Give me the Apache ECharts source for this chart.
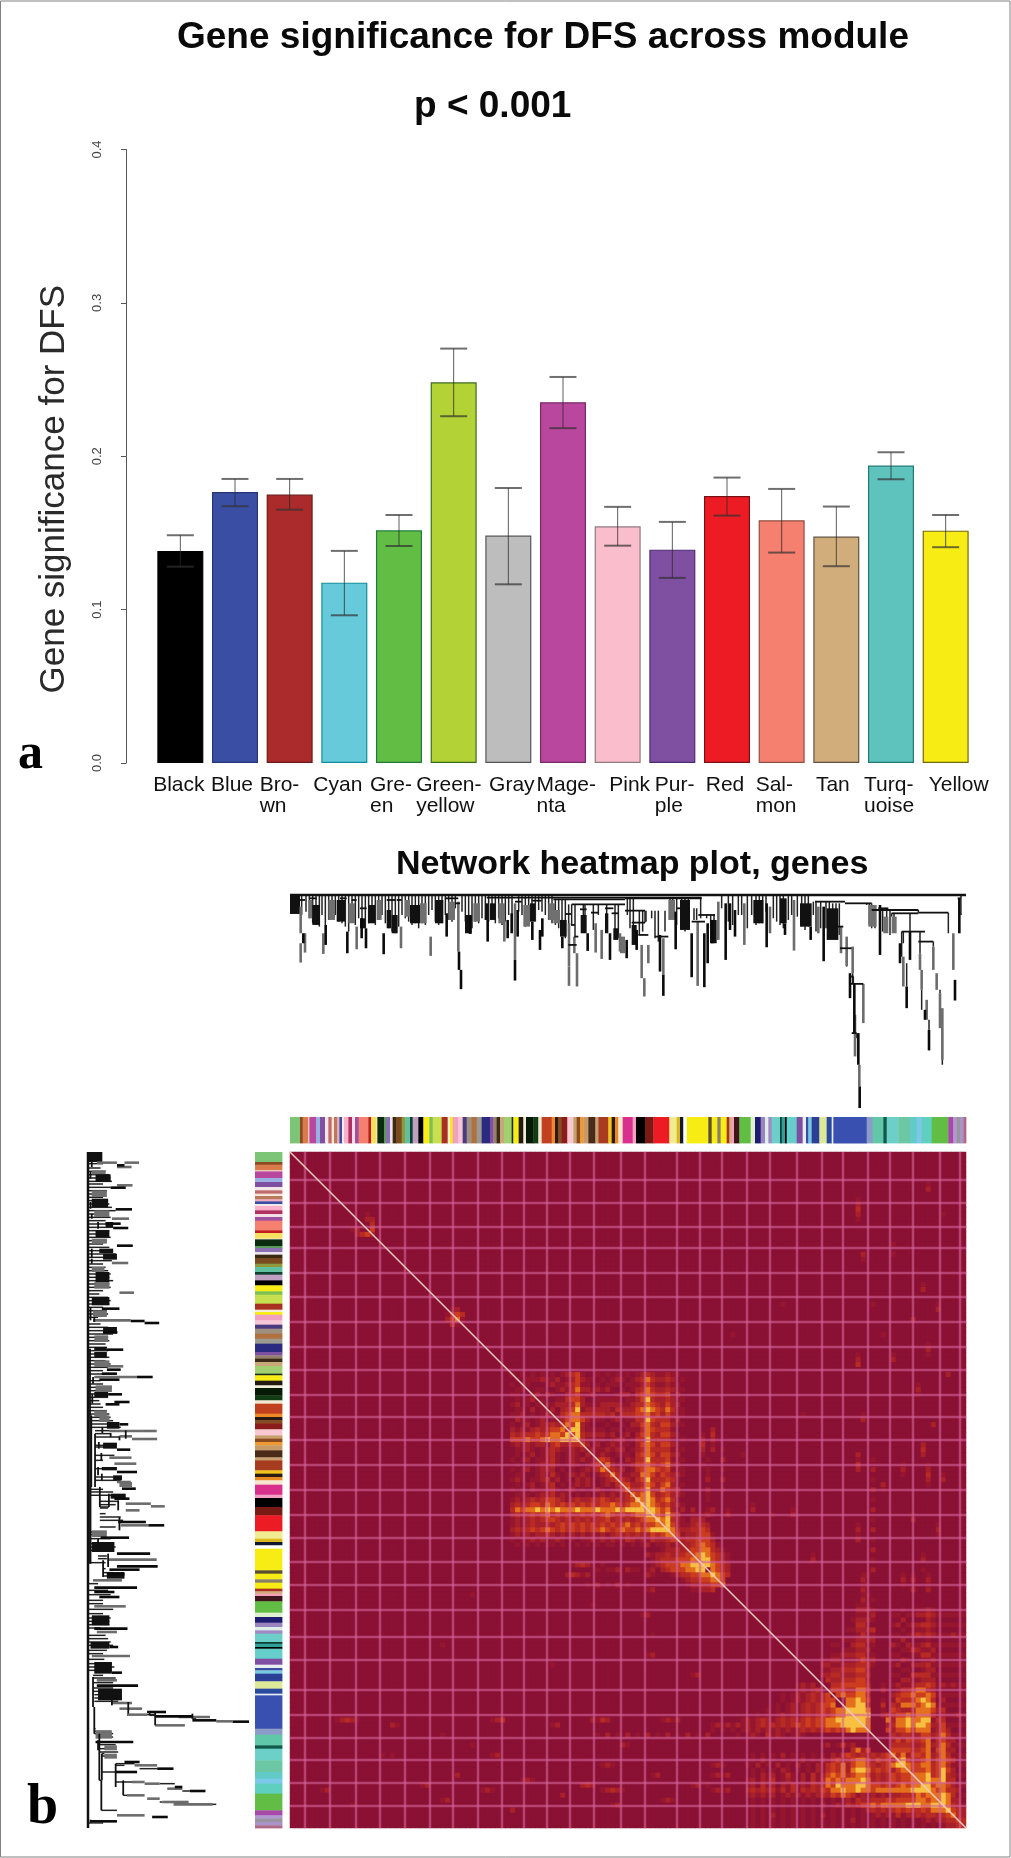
<!DOCTYPE html>
<html><head><meta charset="utf-8">
<style>html,body{margin:0;padding:0;background:#fff}#c{width:1011px;height:1858px;filter:blur(.5px)}</style>
<script src="https://cdn.jsdelivr.net/npm/echarts@6/dist/echarts.min.js"></script>
</head><body><div id="c"></div>
<script>
// ---------- panel a ----------
const categories=['Black','Blue','Bro-\nwn','Cyan','Gre-\nen','Green-\nyellow','Gray','Mage-\nnta','Pink','Pur-\nple','Red','Sal-\nmon','Tan','Turq-\nuoise','Yellow'];
const significance=[.1383,.1767,.175,.1176,.1517,.2482,.1483,.2352,.1543,.1391,.1741,.1583,.1476,.1939,.1515];
const errorLow=[.128,.1674,.1652,.0963,.1415,.2261,.1165,.2183,.1417,.1207,.1613,.1372,.1283,.185,.1407];
const errorHigh=[.1485,.1852,.1852,.1383,.1617,.2702,.1793,.2517,.167,.1572,.1861,.1787,.1672,.2026,.1617];
const barColors=['#000000','#3a4fa3','#ab2a2b','#66cadb','#62bd45','#b2d235','#bdbdbd','#b8479d','#f9bdcc','#7f4fa2','#ed1c24','#f58070','#d2ad7c','#5fc3bd','#f7ec13'];
const barEdges=['#000000','#26357a','#6e1a1a','#0f8f99','#1f7d3a','#3d6b1e','#555555','#7a2a6c','#8f7a80','#4d2c70','#7a1014','#8f4f44','#5f5240','#1f7a76','#6f6a10'];
const yTicks=[0,.1,.2,.3,.4];
// ---------- panel b ----------
const moduleEnds=[30,38,55,58,78,90,105,115,125,132,142,148,156,162,175,186,195,206,235,243,260,262,282,288,300,308,318,335,345,360,368,385,400,418,428,455,473,480,488,505,518,530,545,560,575,600,610,620,630,642,665,670,686,700,708,730,745,755,785,795,805,815,832,850,860,870,880,895,916,925,955,965,975,985,998,1028,1038,1065,1090,1138,1160,1170,1180,1190,1255,1265,1282,1292,1310,1318,1325,1332,1348,1382,1395,1412,1425,1435,1445,1470,1475,1485,1490,1520,1538,1548,1555,1565,1588,1610,1625,1630,1730,1748,1780,1790,1825,1860,1880,1895,1925,1975,1990,2000,2010,2020,2028];
const moduleColors=['#7cc576','#8a4b22','#d97b4a','#f3e3d0','#b8479d','#9ab0e0','#7f4fa2','#f3e6e6','#c06a6a','#f5e5dc','#b87a5a','#f4a9c0','#3a4fa3','#f5e8ec','#f9b0c8','#b03060','#f5dfe6','#a050a0','#f58070','#c01c20','#f7e060','#ffffff','#0c2c10','#5a9a5a','#8a70b0','#ece4ee','#3a2a10','#7a4a20','#8d9b3c','#60c0a0','#104030','#c0a0c0','#000000','#f7ec13','#7bbf55','#c8e050','#a83020','#f4ead8','#f7ec13','#f0a0c0','#f6c6d4','#4a3a80','#a09080','#b07040','#9a9a90','#2a2a80','#7f4fa2','#94806c','#3a2a18','#c8a878','#a0d070','#1c2c10','#f7ec13','#221a10','#f0ecd8','#061a06','#123c14','#f0e8d0','#c04020','#ee8a28','#2a1a10','#8a4b22','#8a1c1c','#f8c8d0','#c8a070','#8a4b22','#ee9a30','#c89a68','#4a2a18','#c8a070','#a83c20','#f2c51c','#2a1a10','#e88a20','#f6e8d0','#d8308c','#f4a0c4','#000000','#7a1a14','#ed1c24','#f2ec90','#dcb820','#101830','#ffffff','#f7ec13','#5a5030','#f7ec13','#8a8068','#f7ec13','#a83020','#d2ad7c','#f4a0b8','#40141c','#62bd45','#e0efd0','#1c1c70','#9a84c0','#dfeee8','#a08ac4','#6ccfca','#0c3a34','#30a098','#000000','#66cfcc','#7f4fa2','#e8eef0','#3a4fa3','#78c8e0','#2a3f95','#dde898','#2a4aa0','#e8eef4','#3a50b0','#8c9cc8','#60c8a8','#0e5a48','#6ccfc8','#6cc8a4','#62cbc8','#7cc8e8','#5fcfc0','#62bd45','#a848a8','#b09ad0','#9a94a0','#a894c8','#b06a88'];
const gridColsX=[45,120,198,270,345,420,489,564,636,702,771,840,912,993,1065,1161,1230,1296,1371,1440,1521,1596,1659,1734,1800,1869,1950,2010];
const gridRowsY=[84,153,225,288,363,435,510,585,654,729,795,864,939,1014,1089,1158,1230,1299,1374,1455,1524,1614,1689,1758,1824,1893,1962];
const heatSize=135;
// [row, first column, levels read along that row]; the matrix is symmetric
const heatRows=[
[16,13,'2342'],[15,12,'12'],[33,31,'2454'],[32,31,'13'],[34,32,'31'],
[44,44,'1'],[45,44,'01'],[46,44,'101'],[47,44,'0110'],[48,44,'11001'],[49,44,'010120'],[50,44,'1201011'],[51,44,'01102010'],[52,44,'112010121'],[53,44,'0211012011'],[54,44,'10120122323'],[55,44,'212123234453'],[56,44,'3233343455464'],[57,44,'44454456556666'],[58,44,'121212213422334'],[59,44,'0112101232112121'],[60,44,'01012012310121021'],[61,44,'101201123101212113'],[62,44,'0101012231012101243'],[63,44,'10120122201010121354'],[64,44,'011001213101212101235'],[65,44,'1210112312010212101234'],[66,44,'01012012301012121012134'],[67,44,'101021123101201012101245'],[68,44,'0111012231210101012121235'],[69,44,'12123234432123223343232346'],[70,44,'232344354343434343445434556'],[71,44,'3545565656555655565556566666'],[72,44,'23234345343433434345434345566'],[73,44,'121232344323232323342323234556'],[74,44,'1212322323434343434343453434455'],[75,44,'23234345434343434454345445456666'],[76,44,'121212232121212121212323232243455'],[77,44,'1011212112101011212121132121322344'],[78,44,'0101010110100101010110101012011232'],
[78,74,'12122'],[79,74,'122323'],[80,72,'122323344'],[81,72,'1233344455'],[82,72,'12344455666'],[83,74,'234445566'],[84,76,'123344556'],[85,78,'12334455'],[86,78,'012233445'],[87,80,'11223'],
[83,60,'0101120211012'],[86,58,'0102010201'],[82,56,'1232101'],[84,55,'232120'],[80,71,'2'],[84,71,'21'],[87,71,'12'],
[106,100,'01212'],[107,100,'012123'],[108,98,'1012123234'],[109,98,'10121232344'],[110,96,'0101212323445'],[111,94,'010101212323434556'],[112,92,'010101212123234345566'],[113,90,'121232123232343445566666'],[114,84,'1212121212323232343434455566666'],[115,84,'10101012121212121232323434356555'],[116,60,'0102010201020102010201020'],
[113,9,'12321'],[113,40,'123'],[113,60,'2132'],[113,74,'1212'],[114,20,'21'],[114,52,'12'],
[116,88,'0101210312101210'],[118,106,'1201312'],[119,112,'3524'],
[120,91,'010101020101010102134323232345'],[121,91,'0102010101020102134231323243435'],[122,91,'10201020102010213435232323234566'],[123,91,'010101021010102134352323434342455'],[124,91,'0102120131020312454534323232343445'],[125,91,'12021301210203135454543232323434455'],[126,91,'120312021312132354655432344343454556'],[127,91,'2323231313132324355653545455555556666'],[128,91,'12121201212121232435431212121223335455'],[129,91,'010101010101010101012132233343444455455'],[130,91,'0101010101010102012132344545555566655666'],[131,91,'01010101010101010101010123232343433435556'],[132,91,'010102010101010201010101012121312232332345'],[133,91,'0101010101010101010102010101010101012122334'],[134,91,'01010101010101010101010101010101010101012233'],
[121,112,'4554'],[122,112,'4554'],[123,112,'5665'],[124,112,'4554'],[125,112,'5565'],[126,112,'5665'],[127,112,'5655'],
[120,18,'101'],[120,40,'12'],[122,62,'121'],[124,33,'2'],[124,72,'12'],[125,46,'121'],[126,26,'12'],[126,58,'232'],[126,80,'1201'],[127,6,'12'],[127,38,'121'],[127,62,'12321'],[127,84,'1212'],[128,54,'2'],[129,30,'12'],[129,74,'121'],[130,12,'1'],[130,64,'12'],[131,44,'2'],[118,36,'1'],[118,66,'21'],[122,84,'121'],[124,84,'1212'],[116,30,'1'],[100,71,'12'],[96,72,'1'],[92,70,'12'],[90,60,'1'],[98,30,'1'],[88,36,'1'],[102,52,'1'],[104,80,'12']
];
const heatPalette=['#8a1134','#96162f','#a8202a','#b82a24','#cc3d1f','#e4701e','#f8c040'];
// dendrogram: gene position, depth below the root
const massBlack=[[0,30,0,57],[67,90,30,90],[140,165,15,80],[210,225,70,100],[235,255,30,85],[290,303,45,100],[305,323,60,115],[360,390,30,85],[435,460,15,85],[525,545,60,115],[585,595,25,75],[600,617,25,75],[720,735,25,80],[810,830,75,125],[872,890,60,115],[945,955,55,115],[970,985,100,135],[1025,1040,90,150],[1170,1200,15,105],[1260,1280,75,145],[1390,1420,15,85],[1470,1490,10,85],[1530,1565,25,95],[1610,1645,40,135]];
const massGray=[[55,67,15,70],[115,135,15,75],[175,195,25,85],[260,275,15,75],[345,360,15,65],[390,410,25,85],[475,495,20,75],[550,570,25,80],[625,645,25,85],[700,720,30,95],[775,795,25,75],[790,810,45,85],[990,1005,125,175],[1135,1155,15,75],[1735,1760,30,95],[1780,1795,65,115],[1805,1820,65,115],[2008,2016,10,55]];
const stemsBlack=[[40,115,145],[107,90,150],[172,110,175],[228,100,160],[215,70,130],[281,115,178],[470,55,125],[507,170,225],[513,225,283],[541,60,117],[593,75,140],[675,195,257],[683,45,125],[653,75,130],[665,55,115],[727,80,135],[750,105,165],[757,70,125],[817,125,160],[893,115,168],[960,115,195],[1010,135,190],[1040,105,165],[1110,120,230],[1120,240,303],[1157,50,163],[1205,115,247],[1243,115,277],[1253,85,205],[1267,75,145],[1307,25,195],[1320,25,105],[1335,45,125],[1430,25,157],[1485,85,120],[1562,95,135],[1601,35,199],[1680,235,310],[1693,267,415],[1705,415,510],[1709,575,640],[1770,30,180],[1860,110,195],[1830,145,205],[1850,275,340],[1905,345,375],[1917,405,467],[1995,255,317],[2008,10,115]];
const stemsGray=[[32,35,115],[45,115,173],[32,145,203],[100,115,177],[200,95,163],[333,95,160],[422,125,183],[505,20,170],[643,75,140],[675,25,195],[837,85,215],[837,215,273],[853,125,175],[861,175,275],[917,85,173],[935,105,192],[990,115,170],[1055,150,250],[1063,250,305],[1075,150,205],[1120,130,240],[1223,80,273],[1285,20,135],[1363,25,150],[1440,35,115],[1512,15,167],[1585,35,115],[1653,95,175],[1670,125,213],[1688,155,235],[1720,267,385],[1695,360,485],[1708,510,575],[1840,185,275],[1890,175,225],[1895,225,285],[1910,315,375],[1930,155,225],[1940,235,285],[1950,295,400],[1957,340,495],[1990,115,225]];
// thin strands joining the leaves and lower branches to the tree
const stemsThin=[[35,0,60],[48,0,50],[58,0,70],[68,0,85],[78,0,90],[88,0,95],[96,0,60],[106,0,90],[116,0,75],[126,0,70],[136,0,60],[146,0,80],[156,0,85],[166,0,95],[176,0,110],[186,0,80],[196,0,90],[206,0,70],[216,0,90],[226,0,100],[236,0,85],[246,0,60],[256,0,90],[266,0,75],[276,0,60],[286,0,85],[296,0,100],[306,0,110],[316,0,115],[326,0,95],[336,0,60],[346,0,70],[356,0,80],[366,0,90],[376,0,85],[386,0,100],[396,0,85],[406,0,90],[416,0,60],[426,0,45],[436,0,80],[446,0,90],[456,0,85],[466,0,60],[476,0,75],[486,0,80],[496,0,40],[516,0,50],[526,0,80],[536,0,115],[546,0,100],[556,0,80],[566,0,85],[576,0,70],[586,0,75],[596,0,80],[606,0,70],[616,0,85],[626,0,70],[636,0,90],[646,0,80],[656,0,60],[666,0,70],[686,0,50],[696,0,60],[706,0,95],[716,0,70],[726,0,60],[736,0,80],[746,0,45],[756,0,50],[766,0,60],[776,0,75],[786,0,85],
[796,13,90],[806,13,100],[816,13,120],[826,13,130],[836,28,110],[845,28,90],[855,28,125],[880,28,110],[885,28,100],[910,28,105],[925,28,60],[950,28,100],[975,28,130],[985,28,130],[1012,10,60],[1020,10,100],[1030,10,140],[1048,47,120],[1058,47,110],[1068,47,80],[1085,47,70],[1095,47,130],[1105,47,140],[1125,47,110],[1140,10,70],[1148,10,70],[1160,10,90],[1175,10,100],[1185,10,110],[1195,10,100],[1212,40,75],[1220,40,75],[1232,10,70],[1250,60,70],[1262,60,100],[1272,60,120],[1295,0,40],[1315,0,80],[1328,0,90],[1345,0,60],[1355,0,60],[1372,0,100],[1385,0,60],[1398,0,90],[1408,0,85],[1418,0,85],[1428,0,50],[1450,0,70],[1460,0,80],[1470,0,90],[1480,0,100],[1495,0,75],[1505,0,60],[1522,0,65],[1535,0,95],[1545,0,105],[1555,0,95],[1570,20,60],[1578,20,110],[1592,20,100],[1608,20,100],[1618,20,110],[1628,25,130],[1638,25,130],[1648,25,120],[1738,25,90],[1745,25,100],[1755,45,100],[1778,45,110],[1790,45,110],[1800,45,120],[1812,55,110],[2013,0,60],
[1860,55,110],[1835,110,185],[1840,110,145],[1890,110,175],[1930,140,155],[1850,205,275],[1895,285,345],[1917,375,405],[1975,53,115],[1885,45,53],[1805,55,65],[1700,415,430],[1670,160,215],[1688,235,267],[1065,47,83],[1950,285,295],[1957,400,510],[1690,245,267],[1730,25,30]];
const branches=[[0,2028,0],[590,1235,8],[790,1005,13],[1005,1235,10],[1575,1665,20],[1665,1745,25],[1745,1885,45],[1885,1975,53],[25,45,15],[60,80,10],[150,170,10],[185,200,15],[210,230,40],[290,315,15],[320,335,15],[465,505,10],[495,510,25],[675,695,20],[725,755,17],[825,843,57],[843,855,90],[853,865,125],[835,860,150],[870,890,43],[903,925,53],[945,970,40],[965,985,55],[845,1005,28],[1005,1065,47],[1025,1065,83],[1095,1135,125],[1045,1075,120],[1205,1245,80],[1160,1200,40],[1225,1275,60],[1765,1795,40],[1805,1885,55],[1835,1905,110],[1885,1930,140],[1680,1720,267],[1685,1700,415],[1680,1690,245],[2003,2012,10],[1615,1660,95],[1650,1685,160]];

// ---------- layout ----------
const labelShift=[-1.5,-3,-8,-6.5,-6,-5,3.5,6,12,3.5,-2,-4,-3.5,1,13];
const labelWidth=[0,0,44,0,46,65,0,65,0,42,0,44,0,56,0];
const SANS='"Liberation Sans",Arial,sans-serif';
const richLabels={};
categories.forEach((c,i)=>{const s=labelShift[i]*2;
  richLabels['r'+i]={fontFamily:SANS,fontSize:21,lineHeight:21,color:'#111',align:'left',
    width:labelWidth[i]||undefined,padding:[0,s<0?-s:0,0,s>0?s:0]};});

const geneAxis=(g,inv)=>({type:'value',gridIndex:g,min:0,max:2028,show:false,inverse:!!inv});
const depthAxis=(g,inv)=>({type:'value',gridIndex:g,min:0,max:640,show:false,inverse:!!inv});
const unitAxis=g=>({type:'value',gridIndex:g,min:0,max:1,show:false});

// heat matrix cells
const heat=[];for(let r=0;r<heatSize;r++){heat.push(new Array(heatSize).fill(0));}
heatRows.forEach(([r,c0,s])=>{[...s].forEach((d,k)=>{const c=c0+k,v=+d;
  if(c<heatSize&&r<heatSize){heat[r][c]=v;heat[c][r]=v;}});});
const heatData=[];for(let r=0;r<heatSize;r++)for(let c=0;c<heatSize;c++)heatData.push([c,r,heat[r][c]]);
const heatAxisData=heat.map((_,i)=>i);

// module segments
const moduleSegments=moduleEnds.map((e,i)=>[i?moduleEnds[i-1]:0,e,i]);

function lineEl(a,b,style){return {type:'line',shape:{x1:a[0],y1:a[1],x2:b[0],y2:b[1]},style};}
function dendro(xi,yi,swap){
  const P=(g,h)=>swap?[h,g]:[g,h];
  const stems=(data,color,w)=>({type:'custom',xAxisIndex:xi,yAxisIndex:yi,silent:true,clip:false,data,
    renderItem:(p,api)=>lineEl(api.coord(P(api.value(0),api.value(1))),api.coord(P(api.value(0),api.value(2))),{stroke:color,lineWidth:w})});
  const masses=(data,color)=>({type:'custom',xAxisIndex:xi,yAxisIndex:yi,silent:true,clip:false,data,
    renderItem:(p,api)=>{const a=api.coord(P(api.value(0),api.value(2))),b=api.coord(P(api.value(1),api.value(3)));
      return {type:'rect',shape:{x:Math.min(a[0],b[0]),y:Math.min(a[1],b[1]),width:Math.abs(a[0]-b[0]),height:Math.abs(a[1]-b[1])},style:{fill:color}};}});
  const bars={type:'custom',xAxisIndex:xi,yAxisIndex:yi,silent:true,clip:false,data:branches,
    renderItem:(p,api)=>lineEl(api.coord(P(api.value(0),api.value(2))),api.coord(P(api.value(1),api.value(2))),{stroke:'#111',lineWidth:api.value(2)===0?2.5:1.8})};
  return [stems(stemsThin,'#222',1.5),masses(massGray,'#707070'),masses(massBlack,'#111'),stems(stemsGray,'#6c6c6c',2.6),stems(stemsBlack,'#0a0a0a',2.6),bars];
}
function colorBar(xi,yi,swap){return {type:'custom',xAxisIndex:xi,yAxisIndex:yi,silent:true,data:moduleSegments,
  renderItem:(p,api)=>{const a=api.coord(swap?[0,api.value(0)]:[api.value(0),0]),b=api.coord(swap?[1,api.value(1)]:[api.value(1),1]);
    return {type:'rect',shape:{x:Math.min(a[0],b[0]),y:Math.min(a[1],b[1]),width:Math.abs(a[0]-b[0])+.4,height:Math.abs(a[1]-b[1])+.4},style:{fill:moduleColors[api.value(2)]}};}};}

const option={
  animation:false,backgroundColor:'#fff',
  title:[
    {text:'Gene significance for DFS across module',left:172,top:14,textStyle:{fontFamily:SANS,fontSize:37,fontWeight:'bold',color:'#0a0a0a'}},
    {text:'p < 0.001',left:409,top:83,textStyle:{fontFamily:SANS,fontSize:37,fontWeight:'bold',color:'#0a0a0a'}},
    {text:'Network heatmap plot, genes',left:391,top:843,textStyle:{fontFamily:SANS,fontSize:34,fontWeight:'bold',color:'#0a0a0a'}},
    {text:'a',left:13,top:725,textStyle:{fontFamily:'"Liberation Serif",serif',fontSize:50,fontWeight:'bold',color:'#000'}},
    {text:'b',left:22,top:1776,textStyle:{fontFamily:'"Liberation Serif",serif',fontSize:56,fontWeight:'bold',color:'#000'}}
  ],
  graphic:[{type:'rect',silent:true,shape:{x:.5,y:1,width:1009.5,height:1856},style:{fill:'none',stroke:'#808080',lineWidth:1}}],
  visualMap:[{show:false,type:'continuous',seriesIndex:2,dimension:2,min:0,max:6,inRange:{color:heatPalette}}],
  grid:[
    {left:153,top:149.5,width:820,height:613.5},
    {left:290,top:1152,width:676,height:676,show:true,backgroundColor:heatPalette[0],borderWidth:0},
    {left:290,top:1152,width:676,height:676},
    {left:290,top:1117,width:676,height:26},
    {left:255,top:1152,width:27,height:676},
    {left:290,top:895,width:676,height:213},
    {left:88,top:1152,width:161,height:676}
  ],
  xAxis:[
    {type:'category',gridIndex:0,data:categories,axisLine:{show:false},axisTick:{show:false},
      axisLabel:{interval:0,margin:12,hideOverlap:false,
        formatter:(v,i)=>v.split('\n').map(t=>'{r'+i+'|'+t+'}').join('\n'),rich:richLabels}},
    {type:'category',gridIndex:1,data:heatAxisData,show:false},
    geneAxis(2),geneAxis(3),unitAxis(4),geneAxis(5),depthAxis(6)
  ],
  yAxis:[
    {type:'value',gridIndex:0,min:0,max:.4,interval:.1,offset:27,
      name:'Gene significance for DFS',nameLocation:'middle',nameGap:54,
      nameTextStyle:{fontFamily:SANS,fontSize:35,color:'#2a2a2a',padding:[0,66,0,0]},
      axisLine:{show:true,lineStyle:{color:'#555',width:1}},axisTick:{show:true,length:5,lineStyle:{color:'#555'}},
      splitLine:{show:false},
      axisLabel:{rotate:90,margin:22,fontFamily:SANS,fontSize:13,color:'#444',formatter:v=>yTicks.includes(+v.toFixed(1))?v.toFixed(1):''}},
    {type:'category',gridIndex:1,data:heatAxisData,inverse:true,show:false},
    geneAxis(2,true),unitAxis(3),geneAxis(4,true),depthAxis(5,true),geneAxis(6,true)
  ],
  series:[
    {type:'bar',xAxisIndex:0,yAxisIndex:0,barWidth:46,silent:true,
      data:significance.map((v,i)=>({value:v,itemStyle:{color:barColors[i],borderColor:barEdges[i],borderWidth:1.2}}))},
    {type:'custom',xAxisIndex:0,yAxisIndex:0,silent:true,z:5,
      data:categories.map((c,i)=>[i,errorLow[i],errorHigh[i]]),
      renderItem:(p,api)=>{const i=api.value(0),l=api.coord([i,api.value(1)]),h=api.coord([i,api.value(2)]),x=l[0],w=13.5;
        const st1={stroke:'rgba(40,40,40,.75)',lineWidth:1},st2={stroke:'rgba(50,50,50,.7)',lineWidth:2};
        return {type:'group',children:[lineEl([x,l[1]],[x,h[1]],st1),lineEl([x-w,h[1]],[x+w,h[1]],st2),lineEl([x-w,l[1]],[x+w,l[1]],st2)]};}},
    {type:'heatmap',xAxisIndex:1,yAxisIndex:1,silent:true,data:heatData,progressive:0},
    {type:'custom',xAxisIndex:2,yAxisIndex:2,silent:true,z:4,data:gridColsX.map(g=>[g]),
      renderItem:(p,api)=>lineEl(api.coord([api.value(0),0]),api.coord([api.value(0),2028]),{stroke:'rgba(214,100,155,.6)',lineWidth:2.5})},
    {type:'custom',xAxisIndex:2,yAxisIndex:2,silent:true,z:4,data:gridRowsY.map(g=>[g]),
      renderItem:(p,api)=>lineEl(api.coord([0,api.value(0)]),api.coord([2028,api.value(0)]),{stroke:'rgba(214,100,155,.6)',lineWidth:2.5})},
    {type:'custom',xAxisIndex:2,yAxisIndex:2,silent:true,z:6,data:[[0,2028]],
      renderItem:(p,api)=>lineEl(api.coord([api.value(0),api.value(0)]),api.coord([api.value(1),api.value(1)]),{stroke:'#f3c6bc',lineWidth:1.6})},
    colorBar(3,3,false),colorBar(4,4,true),
    ...dendro(5,5,false),...dendro(6,6,true)
  ]
};
const chart=echarts.init(document.getElementById('c'),null,{renderer:'canvas',width:1011,height:1858});
chart.setOption(option);
</script></body></html>
